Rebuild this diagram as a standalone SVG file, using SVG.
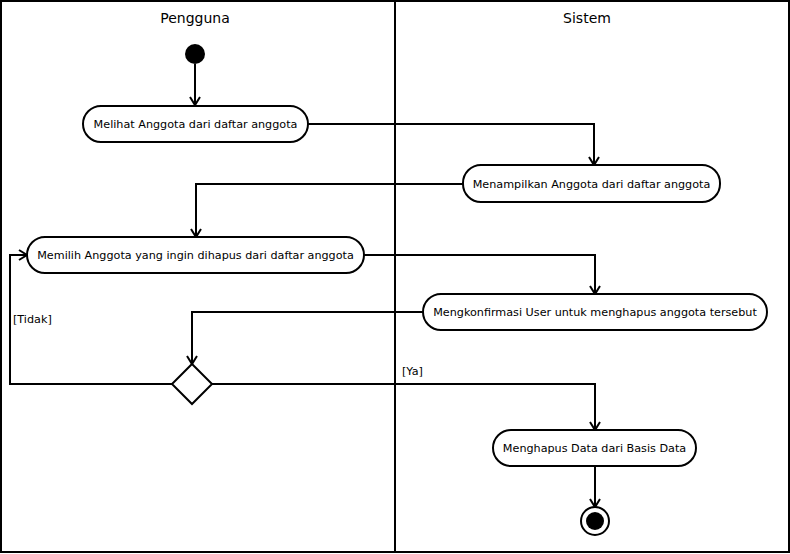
<svg xmlns="http://www.w3.org/2000/svg" width="790" height="554" viewBox="0 0 790 554">
<style>
text{font-family:"DejaVu Sans","Verdana",sans-serif;fill:#000}
.t{font-size:14px;text-anchor:middle}
.n{font-size:11.2px;text-anchor:middle;dominant-baseline:central}
.l{font-size:11.2px}
.box{fill:#fff;stroke:#000;stroke-width:2}
.e{fill:none;stroke:#000;stroke-width:2;marker-end:url(#a)}
</style>
<defs>
<marker id="a" markerWidth="12" markerHeight="12" refX="9" refY="6" orient="auto" markerUnits="userSpaceOnUse">
<path d="M1,1 L9,6 L1,11" fill="none" stroke="#000" stroke-width="2"/>
</marker>
</defs>
<rect x="0" y="0" width="790" height="554" fill="#fff"/>
<g id="lanes">
<rect x="1" y="1" width="788" height="551" fill="none" stroke="#000" stroke-width="2"/>
<line x1="395" y1="1" x2="395" y2="552" stroke="#000" stroke-width="2"/>
<text class="t" x="195" y="23">Pengguna</text>
<text class="t" x="587" y="23">Sistem</text>
</g>
<g id="edges">
<path class="e" d="M195,64 V105"/>
<path class="e" d="M308,124 H594 V165"/>
<path class="e" d="M463,184 H196 V237"/>
<path class="e" d="M364,255 H595 V294"/>
<path class="e" d="M423,312 H192 V364"/>
<path class="e" d="M172,384 H10 V255 H27"/>
<path class="e" d="M212,384 H595 V430"/>
<path class="e" d="M595,466 V507"/>
<text class="l" x="13" y="323">[Tidak]</text>
<text class="l" x="402" y="375">[Ya]</text>
</g>
<g id="start"><circle cx="195" cy="54" r="10" fill="#000"/></g>
<g id="n1"><rect class="box" x="83" y="106" width="225" height="36" rx="18"/><text class="n" x="195.5" y="124">Melihat Anggota dari daftar anggota</text></g>
<g id="n2"><rect class="box" x="463" y="165" width="257" height="37" rx="18"/><text class="n" x="591.5" y="184">Menampilkan Anggota dari daftar anggota</text></g>
<g id="n3"><rect class="box" x="27" y="237" width="337" height="36" rx="18"/><text class="n" x="195.5" y="255">Memilih Anggota yang ingin dihapus dari daftar anggota</text></g>
<g id="n4"><rect class="box" x="423" y="294" width="344" height="36" rx="18"/><text class="n" x="595" y="312">Mengkonfirmasi User untuk menghapus anggota tersebut</text></g>
<g id="decision"><polygon points="192,364 212,384 192,404 172,384" fill="#fff" stroke="#000" stroke-width="2"/></g>
<g id="n5"><rect class="box" x="493" y="430" width="203" height="36" rx="18"/><text class="n" x="594.5" y="448">Menghapus Data dari Basis Data</text></g>
<g id="end"><circle cx="595" cy="521" r="14" fill="#fff" stroke="#000" stroke-width="2"/><circle cx="595" cy="521" r="9" fill="#000"/></g>
</svg>
